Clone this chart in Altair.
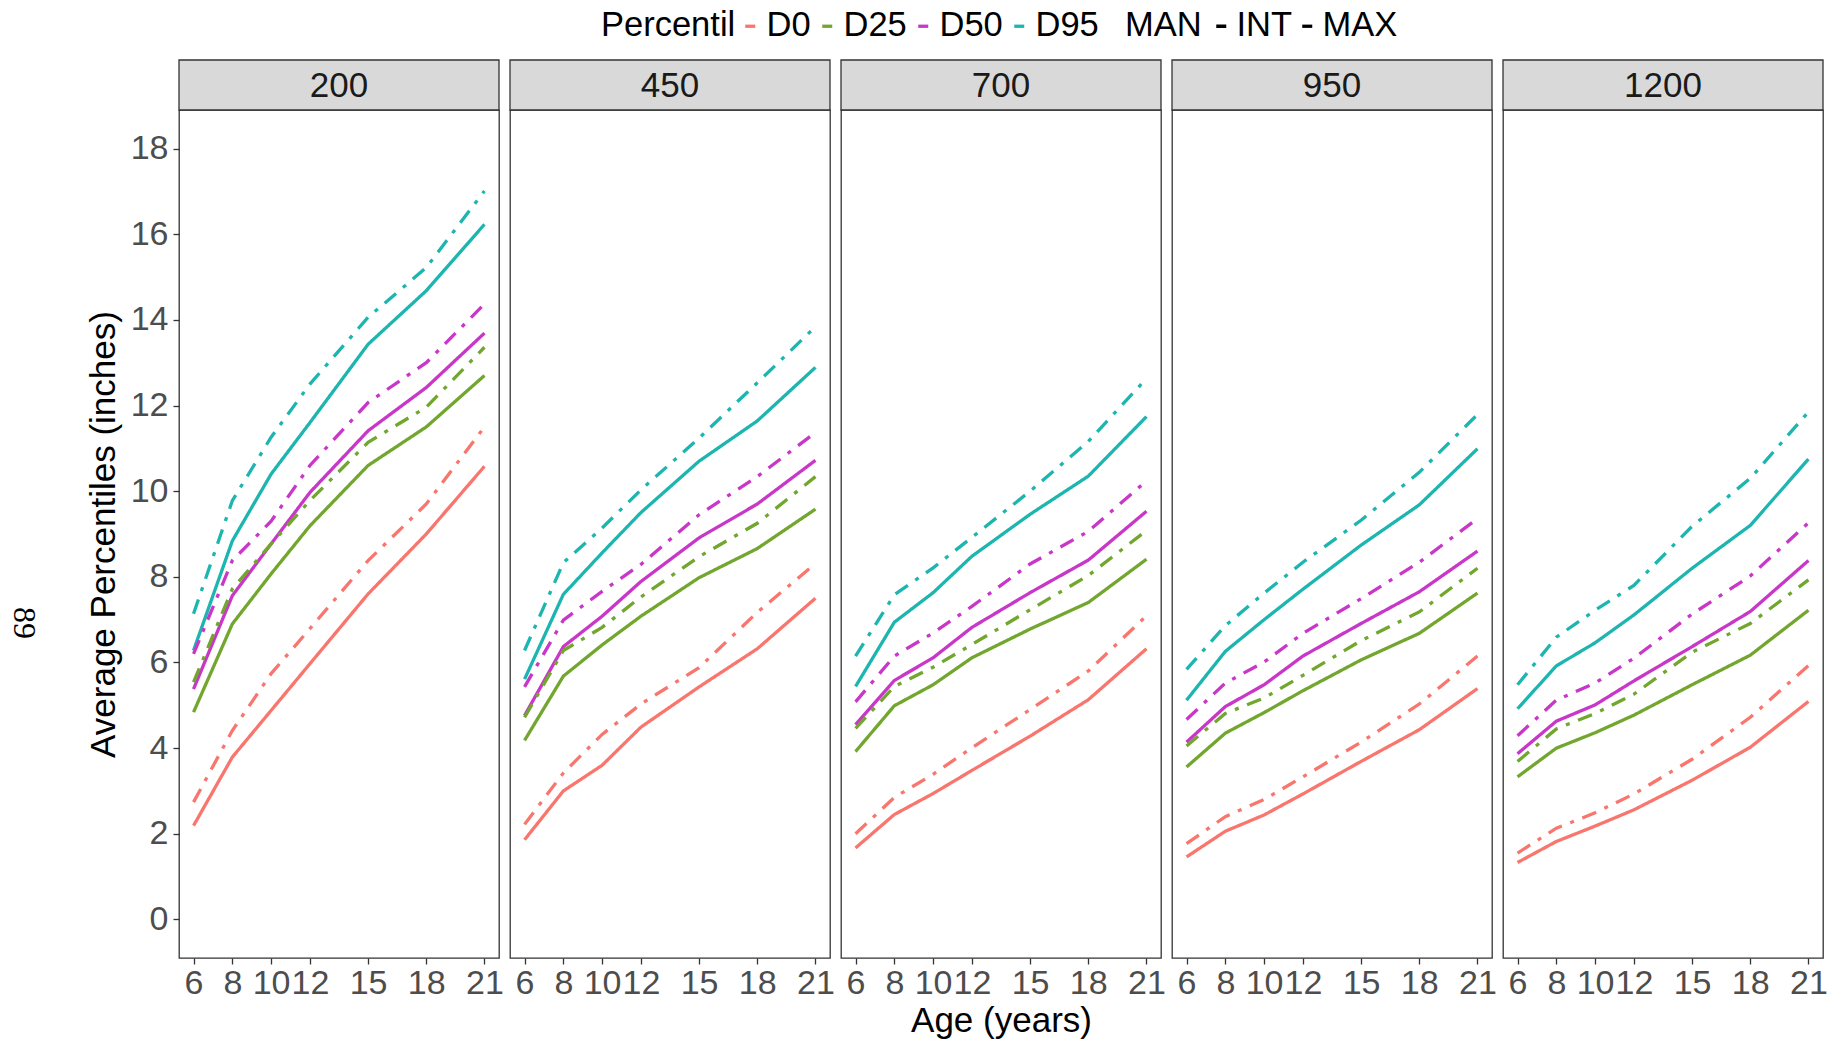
import altair as alt
import pandas as pd

AGES = [6, 8, 10, 12, 15, 18, 21]
DOSES = ["200", "450", "700", "950", "1200"]
PERCENTILES = ["D0", "D25", "D50", "D95"]
TYPES = ["INT", "MAX"]
COLORS = ["#F8766D", "#72A62E", "#C837C8", "#1DB5B0"]
Y_TICKS = [0, 2, 4, 6, 8, 10, 12, 14, 16, 18]

V200 = {
    ("D95", "MAX"): [7.14, 9.78, 11.26, 12.50, 14.06, 15.22, 17.01],
    ("D95", "INT"): [6.28, 8.84, 10.40, 11.60, 13.43, 14.68, 16.23],
    ("D50", "MAX"): [6.20, 8.38, 9.30, 10.60, 12.07, 13.00, 14.37],
    ("D50", "INT"): [5.38, 7.56, 8.77, 9.97, 11.41, 12.42, 13.69],
    ("D25", "MAX"): [5.54, 7.72, 8.77, 9.78, 11.14, 11.96, 13.36],
    ("D25", "INT"): [4.84, 6.90, 8.07, 9.19, 10.60, 11.50, 12.70],
    ("D0", "MAX"): [2.74, 4.41, 5.74, 6.79, 8.38, 9.70, 11.50],
    ("D0", "INT"): [2.19, 3.79, 4.88, 5.97, 7.60, 9.00, 10.58],
}
V450 = {
    ("D95", "MAX"): [6.28, 8.33, 9.14, 10.03, 11.24, 12.53, 13.84],
    ("D95", "INT"): [5.61, 7.59, 8.56, 9.50, 10.70, 11.64, 12.89],
    ("D50", "MAX"): [5.43, 6.99, 7.66, 8.29, 9.45, 10.34, 11.37],
    ("D50", "INT"): [4.76, 6.37, 7.08, 7.89, 8.91, 9.70, 10.72],
    ("D25", "MAX"): [4.72, 6.28, 6.82, 7.53, 8.47, 9.25, 10.34],
    ("D25", "INT"): [4.18, 5.68, 6.41, 7.08, 7.98, 8.66, 9.58],
    ("D0", "MAX"): [2.22, 3.42, 4.32, 5.03, 5.88, 7.17, 8.31],
    ("D0", "INT"): [1.86, 3.00, 3.60, 4.49, 5.43, 6.32, 7.50],
}
V700 = {
    ("D95", "MAX"): [6.15, 7.58, 8.21, 8.92, 10.00, 11.16, 12.63],
    ("D95", "INT"): [5.44, 6.94, 7.63, 8.48, 9.46, 10.35, 11.74],
    ("D50", "MAX"): [5.08, 6.15, 6.69, 7.31, 8.30, 9.06, 10.24],
    ("D50", "INT"): [4.55, 5.58, 6.11, 6.82, 7.63, 8.39, 9.53],
    ("D25", "MAX"): [4.46, 5.44, 5.89, 6.42, 7.23, 8.03, 9.08],
    ("D25", "INT"): [3.92, 4.99, 5.48, 6.11, 6.78, 7.40, 8.41],
    ("D0", "MAX"): [2.00, 2.85, 3.39, 4.01, 4.90, 5.80, 7.09],
    ("D0", "INT"): [1.67, 2.45, 2.94, 3.48, 4.28, 5.13, 6.32],
}
V950 = {
    ("D95", "MAX"): [5.84, 6.86, 7.62, 8.34, 9.32, 10.44, 11.79],
    ("D95", "INT"): [5.12, 6.26, 7.00, 7.71, 8.74, 9.68, 10.99],
    ("D50", "MAX"): [4.67, 5.52, 6.01, 6.68, 7.49, 8.34, 9.36],
    ("D50", "INT"): [4.14, 4.97, 5.48, 6.15, 6.91, 7.65, 8.60],
    ("D25", "MAX"): [4.05, 4.81, 5.17, 5.70, 6.51, 7.18, 8.20],
    ("D25", "INT"): [3.56, 4.35, 4.83, 5.34, 6.06, 6.68, 7.62],
    ("D0", "MAX"): [1.77, 2.40, 2.80, 3.33, 4.14, 5.03, 6.15],
    ("D0", "INT"): [1.46, 2.06, 2.44, 2.93, 3.69, 4.43, 5.39],
}
V1200 = {
    ("D95", "MAX"): [5.48, 6.59, 7.22, 7.80, 9.18, 10.30, 11.85],
    ("D95", "INT"): [4.92, 5.92, 6.46, 7.11, 8.20, 9.20, 10.75],
    ("D50", "MAX"): [4.29, 5.12, 5.52, 6.10, 7.13, 8.02, 9.26],
    ("D50", "INT"): [3.87, 4.63, 5.01, 5.57, 6.37, 7.19, 8.38],
    ("D25", "MAX"): [3.69, 4.45, 4.81, 5.26, 6.24, 6.91, 7.93],
    ("D25", "INT"): [3.33, 4.00, 4.36, 4.77, 5.48, 6.17, 7.22],
    ("D0", "MAX"): [1.55, 2.13, 2.49, 2.93, 3.74, 4.72, 5.93],
    ("D0", "INT"): [1.33, 1.82, 2.18, 2.56, 3.25, 4.02, 5.09],
}
TABLES = [V200, V450, V700, V950, V1200]
PAGE_NUMBER = "89"

rows = []
for dose, table in zip(DOSES, TABLES):
    for (pct, typ), vals in table.items():
        for age, val in zip(AGES, vals):
            rows.append({"Dose": dose, "Percentil": pct, "MAN": typ, "Age": age, "Value": val})
df = pd.DataFrame(rows)

FONT = "Liberation Sans"
W, H, STRIP = 320, 848, 50
LEG_FS = 34.5
TICK_FS = 34
TITLE_FS = 35

color_legend = alt.Legend(
    orient="none", legendX=422, legendY=-101, direction="horizontal", gridAlign="none",
    title="Percentil", titleOrient="left", titleFontSize=LEG_FS, titleFontWeight="normal",
    titleColor="black", titleFont=FONT, labelFont=FONT, labelFontSize=LEG_FS, labelColor="black",
    symbolType="stroke", symbolSize=100, symbolStrokeWidth=3.3,
    columnPadding={"expr": "-1"}, labelOffset={"expr": "-1"}, titlePadding={"expr": "-3"},
)
dash_legend = alt.Legend(
    orient="none", legendX=946, legendY=-101, direction="horizontal", gridAlign="none",
    title="MAN", titleOrient="left", titleFontSize=LEG_FS, titleFontWeight="normal",
    titleColor="black", titleFont=FONT, labelFont=FONT, labelFontSize=LEG_FS, labelColor="black",
    symbolType="stroke", symbolSize=100, symbolStrokeWidth=3.3, symbolStrokeColor="black",
    columnPadding={"expr": "-3"}, labelOffset={"expr": "-2"}, titlePadding=2,
)

panels = []
for i, dose in enumerate(DOSES):
    sub = df[df["Dose"] == dose]
    if i == 0:
        yaxis = alt.Axis(values=Y_TICKS, title="Average Percentiles (inches)", titleFontSize=TITLE_FS,
                         titleFont=FONT, titleFontWeight="normal", titleColor="black", titlePadding=9,
                         labelFont=FONT, labelFontSize=TICK_FS, labelColor="#4D4D4D", labelPadding=5,
                         tickColor="#333333", tickWidth=1.3, tickSize=6, domain=False, grid=False)
    else:
        yaxis = None
    xaxis = alt.Axis(values=AGES, title="Age (years)" if i == 2 else None, titleFontSize=TITLE_FS,
                     titleFont=FONT, titleFontWeight="normal", titleColor="black", titlePadding=3,
                     labelFont=FONT, labelFontSize=TICK_FS, labelColor="#4D4D4D", labelPadding=2,
                     labelOverlap=False, labelFlush=False,
                     tickColor="#333333", tickWidth=1.3, tickSize=6, domain=False, grid=False)
    lines = alt.Chart(sub).mark_line(strokeWidth=3.3).encode(
        x=alt.X("Age:Q", scale=alt.Scale(domain=[5.25, 21.75], nice=False, zero=False), axis=xaxis),
        y=alt.Y("Value:Q", scale=alt.Scale(domain=[-0.9, 18.9], nice=False, zero=False), axis=yaxis),
        color=alt.Color("Percentil:N", scale=alt.Scale(domain=PERCENTILES, range=COLORS), legend=color_legend),
        strokeDash=alt.StrokeDash("MAN:N", scale=alt.Scale(domain=TYPES, range=[[1, 0], [15, 9, 4, 9]]),
                                  legend=dash_legend),
        order="Age:Q",
    )
    strip_df = pd.DataFrame({"Dose": [dose]})
    strip = alt.Chart(strip_df).mark_rect(fill="#D9D9D9", stroke="#333333", strokeWidth=1.3).encode(
        x=alt.value(0), x2=alt.value(W), y=alt.value(-STRIP), y2=alt.value(0))
    strip_text = alt.Chart(strip_df).mark_text(fontSize=35, font=FONT, color="#1A1A1A").encode(
        x=alt.value(W / 2), y=alt.value(-STRIP / 2 + 1), text="Dose:N")
    layers = [lines, strip, strip_text]
    if i == 0:
        page = alt.Chart(pd.DataFrame({"t": [PAGE_NUMBER]})).mark_text(
            fontSize=32, font="Liberation Serif", color="black", angle=90).encode(
            x=alt.value(23 - 178), y=alt.value(622 - 109), text="t:N")
        layers.append(page)
    panels.append(alt.layer(*layers).properties(width=W, height=H))

chart = alt.hconcat(*panels, spacing=11, bounds="flush").properties(
    padding={"left": 7, "top": 9, "right": 5, "bottom": 5}, background="white"
).configure_view(stroke="#333333", strokeWidth=1.3)

chart.save("out.html", embed_options={"renderer": "svg", "actions": False})
